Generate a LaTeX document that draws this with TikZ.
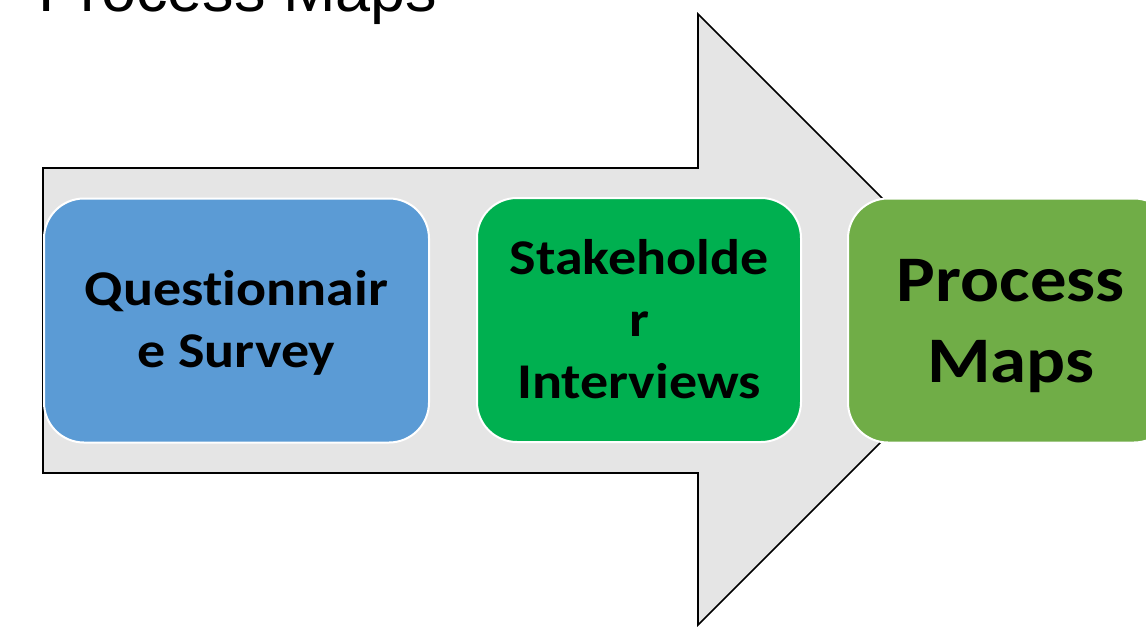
\documentclass[tikz,border=0pt]{standalone}
\usepackage{fontspec}
\setmainfont{Liberation Sans}
\newfontfamily\boxfont[FakeStretch=1.12,Ligatures=NoCommon]{Carlito}
\definecolor{arrowgray}{HTML}{E5E5E5}
\definecolor{qblue}{HTML}{5B9BD5}
\definecolor{sgreen}{HTML}{00B050}
\definecolor{pgreen}{HTML}{70AD47}
\tikzset{
  stepbox/.style={draw=white, line width=2pt, rounded corners=40pt, inner sep=0pt,
    minimum height=244pt, align=center, text=black},
  bigarrow/.style={fill=arrowgray, draw=black, line width=1.6pt, line join=miter},
}
\begin{document}
\begin{tikzpicture}[x=1pt,y=-1pt]
\clip (0,0) rectangle (1146,629);
\fill[white] (0,0) rectangle (1146,629);
\node[anchor=base west, inner sep=0pt, font=\fontsize{63}{70}\selectfont] (title) at (38,11) {Process Maps};
\coordinate (a1) at (43,168);
\coordinate (a2) at (698,168);
\coordinate (a3) at (698,14);
\coordinate (tip) at (1003.5,319.5);
\coordinate (a5) at (698,625);
\coordinate (a6) at (698,473);
\coordinate (a7) at (43,473);
\draw[bigarrow] (a1) -- (a2) -- (a3) -- (tip) -- (a5) -- (a6) -- (a7) -- cycle;
\node[stepbox, fill=qblue, minimum width=385pt, text height=93pt, text depth=0pt,
  font=\boxfont\bfseries\fontsize{50}{62}\selectfont] (q) at (236.5,320.5) {Questionnair\\e Survey};
\node[stepbox, fill=sgreen, minimum width=324pt, text height=156pt, text depth=0pt,
  font=\boxfont\bfseries\fontsize{50}{62}\selectfont] (s) at (639,320) {Stakeholde\\r\\Interviews};
\node[stepbox, fill=pgreen, minimum width=326pt, text height=123pt, text depth=0pt,
  font=\boxfont\bfseries\fontsize{65}{81}\selectfont] (p) at (1011,320.5) {Process\\Maps};
\end{tikzpicture}
\end{document}
